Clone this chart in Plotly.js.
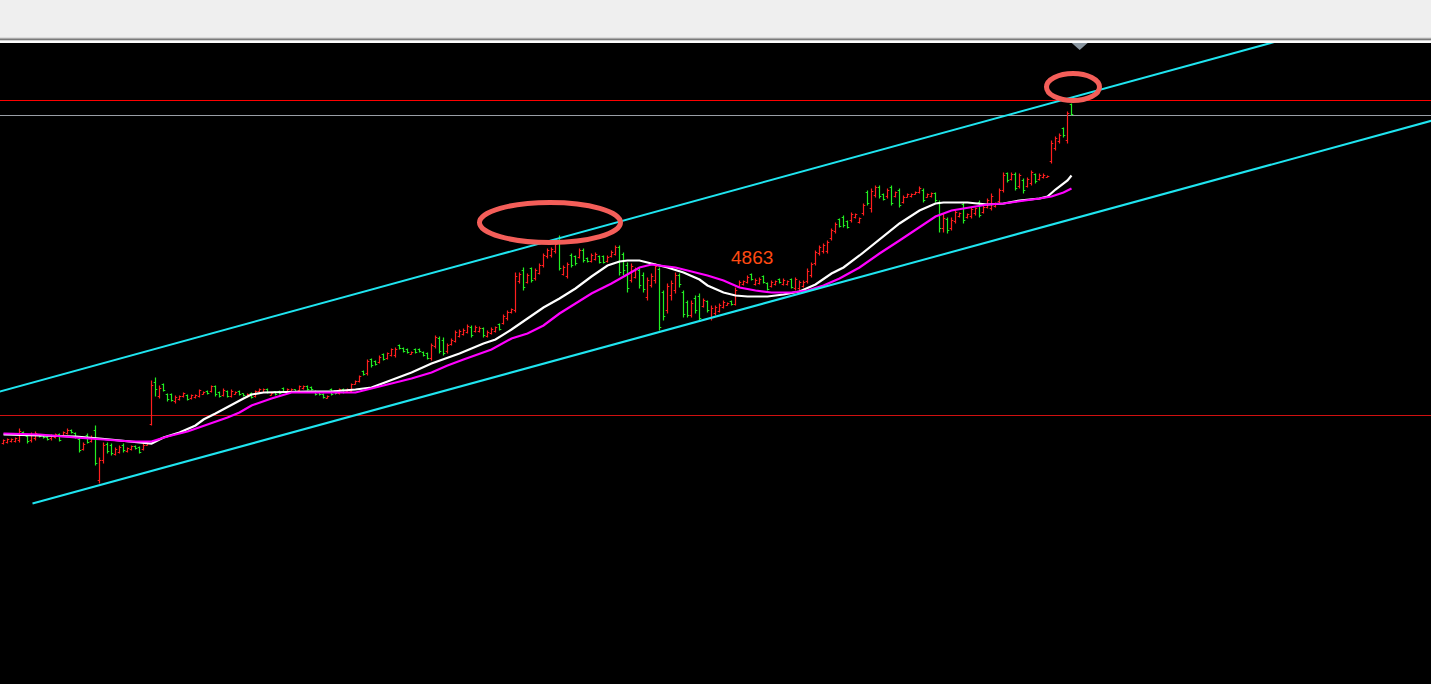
<!DOCTYPE html>
<html>
<head>
<meta charset="utf-8">
<script src="https://cdn.plot.ly/plotly-3.0.1.min.js"></script>
<style>
html,body{margin:0;padding:0;background:#efefef;overflow:hidden;}
#chart{width:1431px;height:684px;}
</style>
</head>
<body>
<div id="chart"></div>
<script>
// ---- OHLC bars (price units) ----
const barOpen = [
4695,4696,4697,4697,4698,4706,4702,4698,4700,4704,
4703,4701,4700,4701,4704,4703,4705,4708,4705,4699,
4689,4703,4697,4708,4658,4678,4694,4693,4684,4686,
4693,4687,4689,4692,4691,4689,4693,4714,4756,4742,
4754,4744,4744,4737,4739,4742,4743,4740,4741,4742,
4744,4747,4747,4752,4746,4743,4747,4742,4744,4747,
4745,4742,4745,4742,4747,4746,4749,4743,4747,4747,
4750,4747,4747,4749,4748,4750,4752,4751,4747,4746,
4744,4740,4749,4748,4745,4749,4747,4747,4754,4757,
4767,4765,4779,4777,4776,4784,4780,4783,4783,4793,
4790,4789,4784,4789,4789,4786,4785,4780,4792,4800,
4798,4787,4794,4797,4802,4804,4806,4811,4807,4807,
4810,4802,4805,4807,4814,4815,4820,4826,4828,4857,
4868,4856,4870,4860,4865,4873,4882,4883,4887,4898,
4864,4862,4883,4882,4881,4888,4880,4877,4879,4882,
4882,4877,4882,4884,4891,4884,4873,4858,4861,4868,
4863,4841,4853,4858,4869,4846,4828,4843,4848,4863,
4846,4836,4823,4840,4842,4832,4837,4820,4825,4827,
4831,4833,4837,4834,4852,4854,4856,4864,4854,4855,
4862,4855,4852,4854,4859,4854,4854,4859,4850,4850,
4852,4857,4863,4875,4885,4887,4887,4900,4907,4919,
4921,4917,4918,4921,4916,4925,4946,4930,4943,4951,
4944,4942,4951,4942,4948,4936,4941,4942,4944,4946,
4948,4941,4942,4945,4936,4910,4919,4910,4917,4922,
4934,4921,4922,4925,4936,4926,4931,4930,4932,4937,
4948,4965,4959,4964,4952,4958,4952,4955,4964,4959,
4961,4961,4977,4990,4997,5010,4998,5034];
const barHigh = [
4699,4700,4700,4701,4710,4707,4703,4706,4707,4704,
4703,4702,4704,4705,4705,4707,4710,4709,4706,4701,
4696,4705,4703,4713,4681,4696,4696,4695,4691,4693,
4695,4691,4693,4693,4692,4695,4696,4758,4761,4753,
4755,4745,4745,4743,4743,4746,4744,4744,4744,4749,
4747,4748,4753,4753,4747,4750,4748,4749,4747,4748,
4745,4745,4746,4748,4750,4750,4750,4746,4747,4748,
4751,4750,4750,4749,4753,4753,4753,4752,4748,4746,
4745,4743,4750,4748,4750,4750,4750,4755,4758,4763,
4768,4779,4780,4778,4783,4785,4786,4790,4791,4794,
4791,4790,4787,4790,4790,4787,4786,4795,4803,4802,
4801,4795,4800,4808,4809,4810,4814,4813,4813,4812,
4811,4808,4811,4812,4815,4824,4828,4830,4866,4866,
4871,4865,4871,4870,4875,4885,4890,4891,4896,4903,
4873,4876,4885,4883,4890,4890,4881,4885,4886,4883,
4883,4883,4888,4893,4893,4886,4876,4875,4871,4870,
4866,4861,4865,4875,4871,4848,4855,4858,4866,4865,
4848,4838,4838,4843,4845,4840,4838,4833,4833,4835,
4838,4836,4838,4851,4858,4858,4863,4865,4860,4861,
4863,4856,4858,4858,4860,4860,4858,4860,4861,4858,
4858,4870,4876,4888,4893,4895,4898,4910,4916,4920,
4923,4918,4926,4925,4921,4935,4948,4950,4953,4953,
4945,4950,4953,4947,4950,4943,4945,4945,4947,4952,
4950,4945,4946,4946,4938,4925,4921,4921,4928,4926,
4936,4925,4931,4931,4938,4933,4940,4945,4936,4950,
4966,4966,4966,4966,4965,4960,4961,4968,4965,4965,
4965,4963,4998,5002,5005,5011,5027,5035];
const barLow = [
4694,4695,4696,4696,4696,4703,4695,4696,4698,4701,
4700,4698,4698,4700,4697,4702,4704,4705,4700,4686,
4688,4695,4696,4673,4655,4675,4685,4683,4683,4685,
4686,4686,4688,4689,4685,4688,4693,4713,4742,4740,
4747,4737,4737,4735,4738,4741,4738,4739,4740,4741,
4744,4744,4746,4742,4741,4742,4741,4741,4744,4743,
4742,4741,4740,4741,4746,4746,4745,4743,4743,4744,
4746,4746,4747,4746,4747,4749,4748,4748,4743,4743,
4740,4740,4743,4744,4744,4745,4746,4746,4754,4756,
4763,4763,4771,4773,4775,4778,4779,4782,4781,4789,
4786,4785,4784,4785,4786,4782,4779,4778,4790,4785,
4783,4785,4793,4796,4801,4803,4805,4801,4806,4806,
4801,4801,4804,4806,4808,4814,4818,4825,4826,4855,
4848,4855,4856,4858,4864,4871,4880,4881,4885,4868,
4863,4860,4871,4873,4880,4876,4876,4876,4878,4875,
4875,4876,4881,4883,4863,4863,4846,4856,4860,4850,
4846,4838,4851,4855,4808,4818,4825,4838,4845,4851,
4821,4821,4821,4825,4818,4831,4826,4818,4823,4826,
4830,4833,4833,4833,4851,4853,4855,4858,4853,4854,
4855,4848,4851,4853,4855,4853,4853,4850,4848,4848,
4851,4855,4861,4873,4883,4885,4885,4898,4905,4911,
4911,4910,4916,4920,4915,4923,4933,4926,4941,4940,
4938,4940,4933,4941,4931,4935,4941,4941,4944,4945,
4936,4941,4941,4936,4906,4906,4905,4908,4915,4921,
4915,4920,4920,4923,4921,4925,4930,4928,4931,4935,
4946,4956,4958,4948,4950,4945,4951,4953,4955,4958,
4960,4961,4975,4988,4995,5001,4995,5023];
const barClose = [
4698,4699,4699,4700,4707,4704,4697,4704,4705,4702,
4701,4699,4703,4704,4698,4706,4708,4706,4701,4688,
4694,4696,4701,4675,4678,4693,4687,4685,4689,4691,
4688,4690,4692,4690,4686,4693,4695,4753,4749,4750,
4748,4739,4738,4741,4742,4745,4739,4743,4743,4748,
4746,4745,4752,4744,4742,4748,4742,4747,4746,4744,
4743,4744,4741,4747,4749,4749,4746,4745,4744,4745,
4747,4749,4749,4747,4752,4752,4749,4749,4744,4744,
4741,4742,4744,4745,4749,4746,4749,4754,4757,4762,
4764,4777,4773,4774,4781,4779,4785,4789,4789,4790,
4787,4786,4786,4786,4787,4783,4780,4793,4801,4787,
4785,4793,4798,4806,4807,4808,4812,4803,4811,4810,
4803,4806,4809,4811,4809,4822,4826,4829,4862,4864,
4851,4863,4858,4868,4873,4883,4888,4889,4894,4870,
4871,4874,4873,4875,4888,4878,4877,4883,4884,4876,
4876,4881,4886,4891,4866,4868,4850,4872,4869,4853,
4849,4858,4862,4872,4811,4822,4852,4855,4863,4854,
4824,4823,4835,4828,4820,4838,4828,4830,4831,4833,
4836,4835,4834,4848,4856,4857,4861,4859,4858,4859,
4856,4849,4856,4857,4856,4858,4857,4851,4859,4856,
4856,4867,4874,4886,4891,4893,4896,4908,4914,4912,
4913,4911,4924,4924,4920,4933,4935,4947,4951,4942,
4939,4948,4935,4946,4933,4941,4944,4944,4946,4950,
4938,4944,4945,4938,4910,4920,4908,4918,4926,4925,
4918,4924,4929,4930,4923,4931,4938,4942,4935,4948,
4963,4958,4964,4950,4963,4948,4959,4966,4957,4963,
4963,4962,4995,5000,5003,5003,5025,5024];

// ---- moving averages (bar index / price) ----
const maWhiteX = [0,10,18,24,32,37,40,44,48,50,53,57,60,62,65,76,82,88,92,94,98,102,107,110,114,117,120,123,127,131,135,139,143,147,151,154,156,159,162,166,170,174,176,180,183,186,191,195,199,203,207,210,214,219,224,229,233,235,241,246,250,254,259,261,263,266,267];
const maWhiteY = [4704,4703,4702,4700,4697,4695,4701,4706,4713,4719,4725,4734,4740,4744,4746,4747,4747,4749,4751,4754,4760,4766,4775,4779,4785,4790,4795,4799,4809,4820,4831,4840,4850,4862,4873,4877,4878,4878,4875,4871,4866,4859,4853,4846,4843,4842,4842,4844,4847,4854,4865,4871,4883,4899,4915,4928,4935,4936,4936,4934,4935,4938,4940,4942,4949,4958,4963];
const maMagX = [0,9,18,24,32,37,41,46,51,56,59,62,67,72,88,92,95,98,102,107,111,115,119,122,127,131,135,139,143,147,152,156,159,162,164,168,172,176,180,184,188,192,197,201,205,209,214,219,224,229,233,237,242,246,250,254,259,262,265,267];
const maMagY = [4705,4704,4701,4699,4697,4697,4702,4707,4714,4721,4726,4733,4740,4746,4746,4750,4753,4756,4760,4766,4773,4779,4785,4789,4800,4805,4813,4825,4835,4845,4855,4864,4871,4874,4873,4871,4867,4863,4858,4851,4848,4846,4846,4848,4853,4860,4871,4885,4898,4911,4922,4928,4931,4934,4935,4937,4940,4942,4946,4950];

// ---- channel lines (bar index / price) ----
const channelUpperX = [-10, 330];
const channelUpperY = [4737, 5110];
const channelLowerX = [7.25, 370];
const channelLowerY = [4635, 5032];

// ---- horizontal levels ----
const levelRedTop = 5038;
const levelGrey = 5023;
const levelRedLow = 4723;

// ---- label ----
const labelText = '4863';
const labelX = 187;
const labelY = 4881;

const barX = barOpen.map((_, i) => i);

const traces = [
  {
    type: 'ohlc', x: barX, open: barOpen, high: barHigh, low: barLow, close: barClose,
    increasing: {line: {color: '#ff1e1e', width: 1.2}},
    decreasing: {line: {color: '#22ee22', width: 1.2}},
    tickwidth: 0.45, hoverinfo: 'skip'
  },
  {type: 'scatter', mode: 'lines', x: maWhiteX, y: maWhiteY, line: {color: '#ffffff', width: 2.2}, hoverinfo: 'skip'},
  {type: 'scatter', mode: 'lines', x: maMagX, y: maMagY, line: {color: '#ff00ff', width: 2.2}, hoverinfo: 'skip'},
  {type: 'scatter', mode: 'lines', x: channelUpperX, y: channelUpperY, line: {color: '#1fe5f0', width: 2}, hoverinfo: 'skip'},
  {type: 'scatter', mode: 'lines', x: channelLowerX, y: channelLowerY, line: {color: '#1fe5f0', width: 2}, hoverinfo: 'skip'}
];

const layout = {
  width: 1431, height: 684,
  margin: {l: 0, r: 0, t: 43, b: 0, pad: 0},
  paper_bgcolor: '#efefef',
  plot_bgcolor: '#000000',
  showlegend: false,
  hovermode: false,
  xaxis: {range: [-0.875, 356.875], visible: false, showgrid: false, zeroline: false, rangeslider: {visible: false}, fixedrange: true},
  yaxis: {range: [4454.5, 5095.5], visible: false, showgrid: false, zeroline: false, fixedrange: true},
  shapes: [
    {type: 'rect', xref: 'paper', yref: 'paper', x0: 0, x1: 1, y0: 1.00671, y1: 1.00827, fillcolor: '#a9a9a9', line: {width: 0}},
    {type: 'rect', xref: 'paper', yref: 'paper', x0: 0, x1: 1, y0: 1.00421, y1: 1.00671, fillcolor: '#7a7a7a', line: {width: 0}},
    {type: 'rect', xref: 'paper', yref: 'paper', x0: 0, x1: 1, y0: 1.00047, y1: 1.00265, fillcolor: '#ffffff', line: {width: 0}},
    {type: 'line', xref: 'paper', x0: 0, x1: 1, yref: 'y', y0: levelRedTop, y1: levelRedTop, line: {color: '#ff0000', width: 1}, layer: 'below'},
    {type: 'line', xref: 'paper', x0: 0, x1: 1, yref: 'y', y0: levelGrey, y1: levelGrey, line: {color: '#9a9ea6', width: 1}, layer: 'below'},
    {type: 'line', xref: 'paper', x0: 0, x1: 1, yref: 'y', y0: levelRedLow, y1: levelRedLow, line: {color: '#d01010', width: 1}, layer: 'below'},
    {type: 'path', xref: 'paper', yref: 'paper', path: 'M 0.74895 1 L 0.76003 1 L 0.75449 0.98908 Z', fillcolor: '#8a96a0', line: {width: 0}},
    {type: 'circle', xref: 'x', yref: 'y', x0: 119.0, x1: 154.25, y0: 4896, y1: 4936, line: {color: '#f45e59', width: 5}},
    {type: 'circle', xref: 'x', yref: 'y', x0: 260.75, x1: 274.0, y0: 5038, y1: 5065, line: {color: '#f45e59', width: 5}}
  ],
  annotations: [
    {x: labelX, y: labelY, xref: 'x', yref: 'y', text: labelText, showarrow: false,
     font: {family: 'Liberation Sans, Arial, sans-serif', size: 19, color: '#ff4a12'}}
  ]
};

Plotly.newPlot('chart', traces, layout, {staticPlot: true, displayModeBar: false});
</script>
</body>
</html>
